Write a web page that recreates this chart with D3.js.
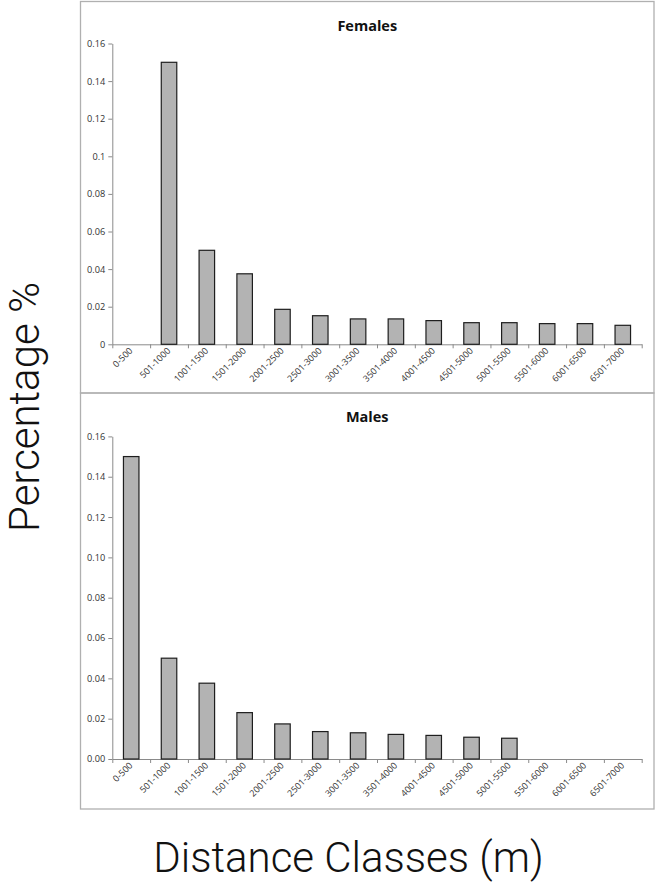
<!DOCTYPE html>
<html>
<head>
<meta charset="utf-8">
<script src="https://cdn.jsdelivr.net/npm/d3@7"></script>
<style>
  html, body { margin: 0; padding: 0; background: #fff; }
  svg { display: block; }
</style>
</head>
<body>
<svg id="chart" width="656" height="889"></svg>
<script>
// ---- data ----
const categories = ["0-500","501-1000","1001-1500","1501-2000","2001-2500","2501-3000","3001-3500","3501-4000","4001-4500","4501-5000","5001-5500","5501-6000","6001-6500","6501-7000"];
const females = [null, 0.15, 0.05, 0.0375, 0.0186, 0.0152, 0.0135, 0.0135, 0.0126, 0.0115, 0.0115, 0.011, 0.011, 0.0101];
const males   = [0.15, 0.05, 0.0376, 0.023, 0.0174, 0.0136, 0.013, 0.0122, 0.0117, 0.0108, 0.0103, null, null, null];
const yTickValues = [0, 0.02, 0.04, 0.06, 0.08, 0.10, 0.12, 0.14, 0.16];
const femaleTickLabels = ["0","0.02","0.04","0.06","0.08","0.1","0.12","0.14","0.16"];
const maleTickLabels   = ["0.00","0.02","0.04","0.06","0.08","0.10","0.12","0.14","0.16"];
const titles = ["Females", "Males"];
const yTitle = "Percentage %";
const xTitle = "Distance Classes (m)";

// ---- layout ----
const svg = d3.select("#chart");
const frameL = 80.5, frameR = 654;
const plotL = 112.3, plotR = 641.7;
const panels = [
  { title: titles[0], values: females, labels: femaleTickLabels, top: 1.5, bottom: 393, y0: 344.3, y1: 43.5 },
  { title: titles[1], values: males,   labels: maleTickLabels,   top: 393, bottom: 809, y0: 759,   y1: 436.4 }
];

const x = d3.scaleBand().domain(categories).range([plotL, plotR]).paddingInner(0.59).paddingOuter(0.295);
const xEdge = d3.scaleLinear().domain([0, categories.length]).range([plotL, plotR]);

const axisColor = "#8a8a8a";
const textColor = "#333";

panels.forEach(p => {
  const g = svg.append("g");
  g.append("rect")
    .attr("x", frameL).attr("y", p.top)
    .attr("width", frameR - frameL).attr("height", p.bottom - p.top)
    .attr("fill", "none").attr("stroke", "#b0b0b0").attr("stroke-width", 1.3);

  g.append("text")
    .attr("x", (frameL + frameR) / 2).attr("y", p.top + 29)
    .attr("text-anchor", "middle")
    .attr("font-family", "'Open Sans', sans-serif").attr("font-weight", 700)
    .attr("font-size", 14.5).attr("fill", "#111")
    .text(p.title);

  const y = d3.scaleLinear().domain([0, 0.16]).range([p.y0, p.y1]);

  // y axis
  const ya = g.append("g").attr("transform", `translate(${plotL},0)`)
    .call(d3.axisLeft(y).tickValues(yTickValues).tickSizeInner(4).tickSizeOuter(0).tickPadding(3)
      .tickFormat((d, i) => p.labels[i]));
  ya.select(".domain").attr("stroke", axisColor);
  ya.selectAll(".tick line").attr("stroke", axisColor);
  ya.selectAll(".tick text").attr("font-family", "'Open Sans', sans-serif").attr("font-size", 9.2).attr("fill", textColor);

  // x axis with ticks at band edges
  const xa = g.append("g").attr("transform", `translate(0,${p.y0})`)
    .call(d3.axisBottom(xEdge).tickValues(d3.range(categories.length + 1)).tickSizeInner(4).tickSizeOuter(0).tickFormat(""));
  xa.select(".domain").attr("stroke", axisColor);
  xa.selectAll(".tick line").attr("stroke", axisColor);

  // x labels
  g.append("g").selectAll("text").data(categories).join("text")
    .attr("transform", d => `translate(${x(d) + x.bandwidth() / 2 + 2},${p.y0 + 7}) rotate(-45)`)
    .attr("text-anchor", "end")
    .attr("font-family", "'Open Sans', sans-serif").attr("font-size", 9)
    .attr("fill", textColor)
    .text(d => d);

  // bars
  const data = categories.map((c, i) => ({ c, v: p.values[i] })).filter(d => d.v != null);
  g.append("g").selectAll("rect").data(data).join("rect")
    .attr("x", d => x(d.c))
    .attr("y", d => y(d.v))
    .attr("width", x.bandwidth())
    .attr("height", d => y(0) - y(d.v))
    .attr("fill", "#b3b3b3")
    .attr("stroke", "#1e1e1e").attr("stroke-width", 1.2);
});

// big axis titles
svg.append("text")
  .attr("transform", "translate(39,407) rotate(-90)")
  .attr("text-anchor", "middle")
  .attr("font-family", "Roboto, 'Liberation Sans', sans-serif").attr("font-weight", 300)
  .attr("font-size", 42).attr("fill", "#111")
  .text(yTitle);

svg.append("text")
  .attr("x", 348.5).attr("y", 872)
  .attr("text-anchor", "middle")
  .attr("font-family", "Roboto, 'Liberation Sans', sans-serif").attr("font-weight", 300)
  .attr("font-size", 42).attr("fill", "#111")
  .text(xTitle);
</script>
</body>
</html>
